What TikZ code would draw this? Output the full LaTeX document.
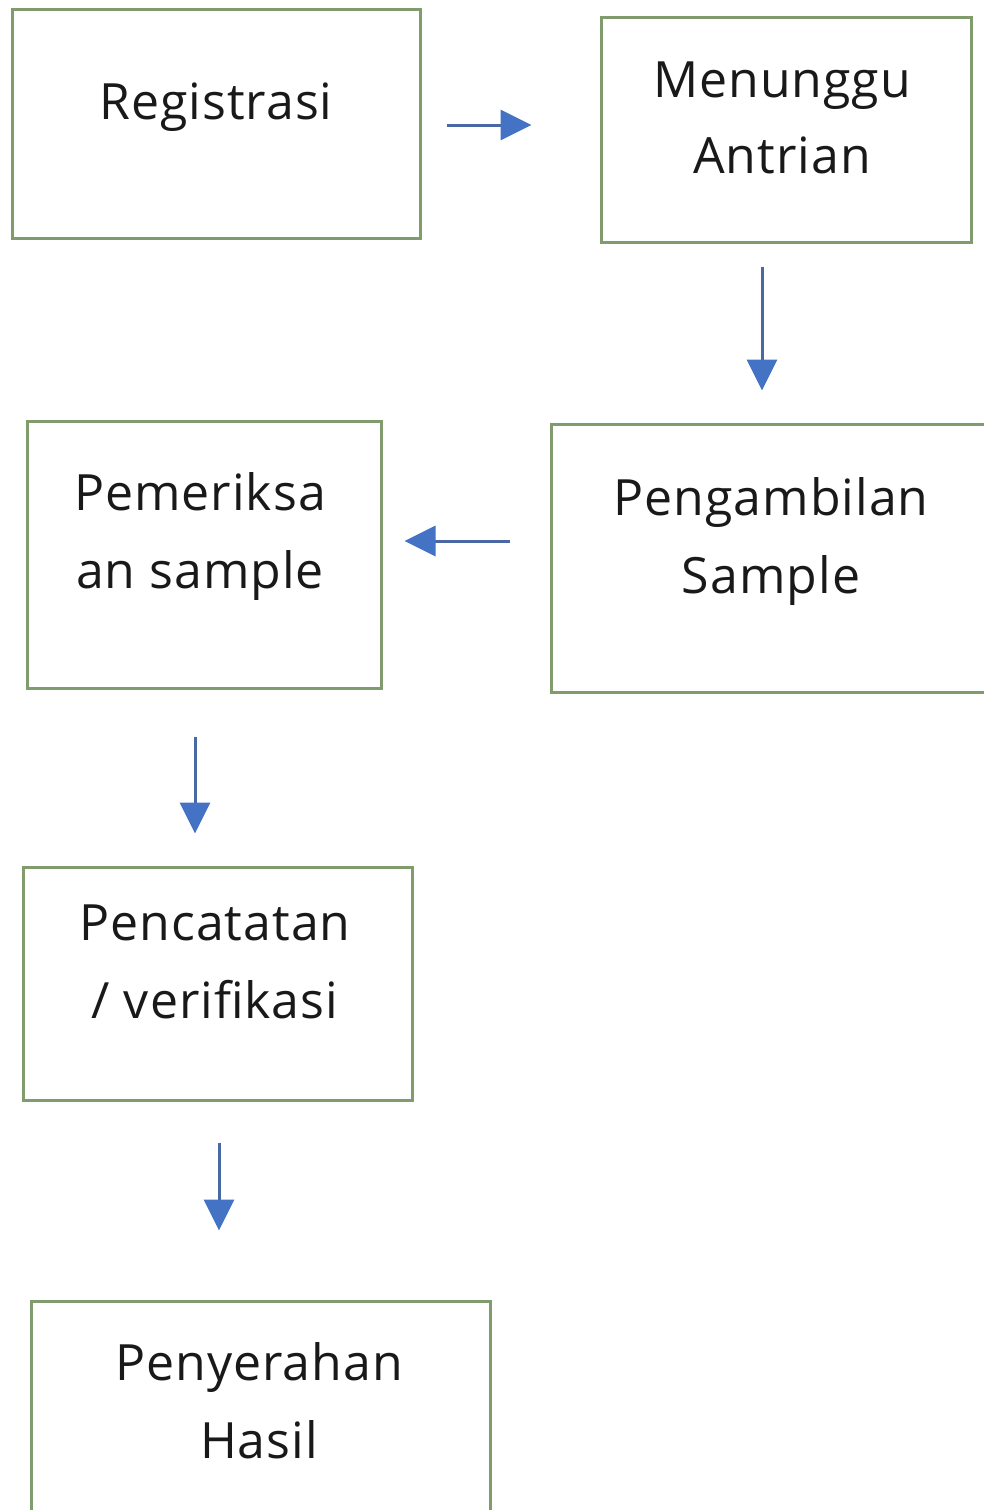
\documentclass[tikz,border=0pt]{standalone}
\usepackage{fontspec}
\setmainfont[LetterSpace=2]{Open Sans}
\usetikzlibrary{arrows.meta}
\definecolor{boxgreen}{RGB}{128,155,108}
\definecolor{lineblue}{RGB}{74,104,162}
\definecolor{headblue}{RGB}{68,114,196}
\tikzset{
  box/.style={draw=boxgreen, line width=3pt, rectangle, inner sep=0pt},
  lbl/.style={anchor=base, inner sep=0pt, font=\fontsize{50pt}{77pt}\selectfont, text=black!90, align=center},
  arr/.style={draw=lineblue, line width=3pt, -{Triangle[length=31pt,width=30pt,color=headblue]}}
}
\begin{document}
\begin{tikzpicture}[x=1pt,y=-1pt]
\useasboundingbox (0,0) rectangle (984,1510);
% boxes
\node[box, minimum width=408pt, minimum height=229pt] (reg) at (216,123.5) {};
\node[box, minimum width=370pt, minimum height=225pt] (men) at (786,129.5) {};
\node[box, minimum width=450pt, minimum height=268pt] (pen) at (776,558) {};
\node[box, minimum width=354pt, minimum height=267pt] (pem) at (204,554.5) {};
\node[box, minimum width=389pt, minimum height=233pt] (pc) at (217.5,983.5) {};
\node[box, minimum width=459pt, minimum height=239pt] (ps) at (260.5,1420.5) {};
% texts
\node[lbl] (treg) at (216,119) {Registrasi};
\node[lbl] (tmen1) at (782,97) {Menunggu};
\node[lbl] (tmen2) at (782,173) {Antrian};
\node[lbl] (tpen1) at (771,515) {Pengambilan};
\node[lbl] (tpen2) at (771,593) {Sample};
\node[lbl] (tpem1) at (200,510) {Pemeriksa};
\node[lbl] (tpem2) at (200,588) {an sample};
\node[lbl] (tpc1) at (215,940) {Pencatatan};
\node[lbl] (tpc2) at (215,1018) {/ verifikasi};
\node[lbl] (tps1) at (259,1380) {Penyerahan};
\node[lbl] (tps2) at (259,1458) {Hasil};
% connectors
\draw[arr, shorten <=25pt, shorten >=68pt] ([yshift=-1.5pt]reg.east) -- ([yshift=4.5pt]men.west);
\draw[arr, shorten <=23pt, shorten >=32pt] ([xshift=-24pt]men.south) -- ([xshift=-14pt]pen.north);
\draw[arr, shorten <=40pt, shorten >=22pt] ([yshift=17pt]pen.west) -- ([yshift=13.5pt]pem.east);
\draw[arr, shorten <=47pt, shorten >=32pt] ([xshift=-9pt]pem.south) -- ([xshift=-22.5pt]pc.north);
\draw[arr, shorten <=41pt, shorten >=69pt] ([xshift=1.5pt]pc.south) -- ([xshift=-41.5pt]ps.north);
\end{tikzpicture}
\end{document}
